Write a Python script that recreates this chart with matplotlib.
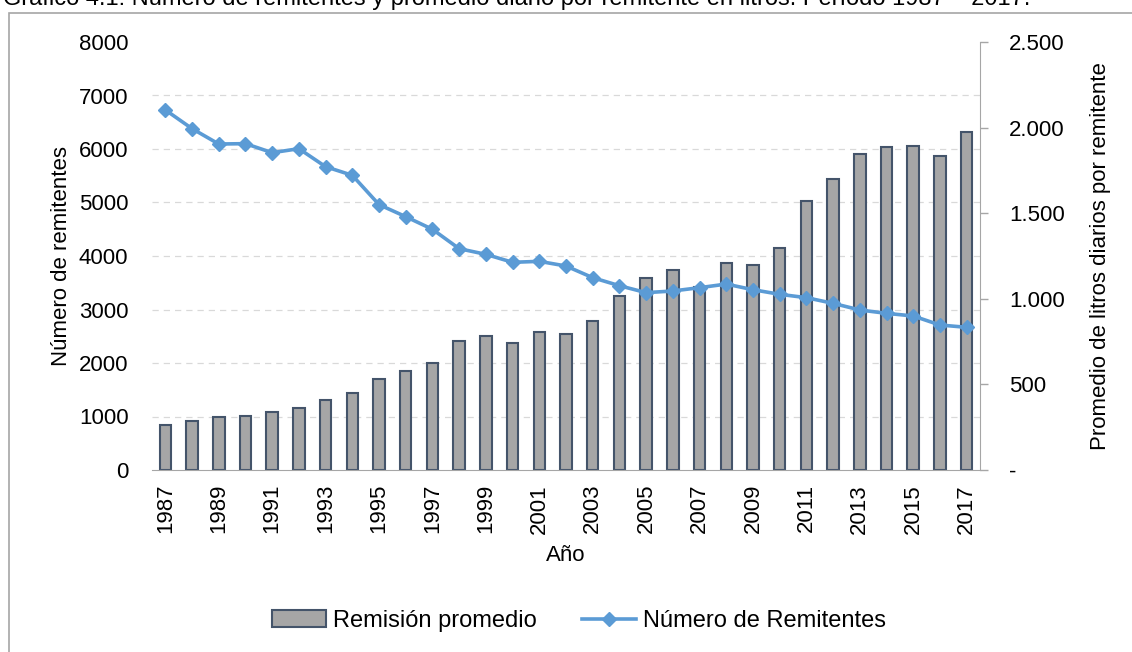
import numpy as np
import matplotlib
matplotlib.use('Agg')
import matplotlib.pyplot as plt
from matplotlib.patches import Rectangle
from matplotlib.ticker import FuncFormatter

plt.rcParams['font.family'] = ['Liberation Sans', 'DejaVu Sans']
plt.rcParams['font.size'] = 16

################################################
# datos
################################################
years = ['1987', '1988', '1989', '1990', '1991', '1992', '1993', '1994', '1995', '1996',
         '1997', '1998', '1999', '2000', '2001', '2002', '2003', '2004', '2005', '2006',
         '2007', '2008', '2009', '2010', '2011', '2012', '2013', '2014', '2015', '2016', '2017']

# litros diarios por remitente (eje derecho)
remision = [264, 287, 311, 318, 336, 365, 406, 447, 529, 578,
            627, 756, 785, 743, 806, 796, 872, 1017, 1119, 1166,
            1068, 1207, 1197, 1298, 1570, 1701, 1847, 1886, 1893, 1833, 1975]

# numero de remitentes (eje izquierdo)
remitentes = [6730, 6380, 6093, 6100, 5931, 6006, 5669, 5508, 4960, 4735,
              4499, 4137, 4031, 3882, 3900, 3813, 3595, 3445, 3315, 3346,
              3408, 3475, 3370, 3284, 3221, 3115, 2991, 2928, 2879, 2710, 2667]

left_ticks = [0, 1000, 2000, 3000, 4000, 5000, 6000, 7000, 8000]
right_ticks = [0, 500, 1000, 1500, 2000, 2500]
################################################

bar_color = '#A6A6A6'
bar_edge = '#44546A'
line_color = '#5B9BD5'
grey = '#A6A6A6'

fig = plt.figure(figsize=(11.32, 6.52), dpi=100)

# marco exterior y titulo cortado
fig.patches.append(Rectangle((8.5 / 1132, -0.05), 1.2, 1 - 13 / 652 + 0.05,
                             transform=fig.transFigure, fill=False,
                             edgecolor='#A6A6A6', linewidth=1.2))
fig.text(3 / 1132, 1 - 4.5 / 652,
         'Gráfico 4.1: Número de remitentes y promedio diario por remitente en litros. Período 1987 – 2017.',
         ha='left', va='baseline', fontsize=17)

x = np.arange(len(years))

ax_bar = fig.add_axes([152 / 1132, 1 - 470 / 652, 828 / 1132, 428 / 652])
ax_line = ax_bar.twinx()   # twinx mueve los ticks, se arreglan despues

# barras (escala a la derecha)
ax_bar.bar(x, remision, width=0.43, color=bar_color, edgecolor=bar_edge,
           linewidth=1.5, zorder=3, label='Remisión promedio')
ax_bar.set_ylim(0, 2500)
ax_bar.set_xlim(-0.5, len(years) - 0.5)
ax_bar.yaxis.tick_right()
ax_bar.yaxis.set_label_position('right')
ax_bar.set_yticks(right_ticks)
ax_bar.yaxis.set_major_formatter(FuncFormatter(
    lambda v, p: '-' if v == 0 else '{:,}'.format(int(v)).replace(',', '.')))
ax_bar.tick_params(axis='y', which='major', direction='out', length=6, width=1,
                   color=grey, pad=15)
ax_bar.set_ylabel('Promedio de litros diarios por remitente', labelpad=18)

# lineas guia en los ticks del eje izquierdo
grid_pos = [v * 2500 / 8000 for v in left_ticks[1:]]
ax_bar.set_yticks(grid_pos, minor=True)
ax_bar.tick_params(axis='y', which='minor', length=0, labelright=False, labelleft=False)
ax_bar.grid(axis='y', which='minor', color='#D9D9D9', linestyle=(0, (5, 4)),
            linewidth=0.9, zorder=0)

ax_bar.set_xticks(x[::2])
ax_bar.set_xticklabels(years[::2], rotation=90)
ax_bar.tick_params(axis='x', length=0, pad=10)
ax_bar.set_xlabel('Año', labelpad=8)

for s in ['top', 'left']:
    ax_bar.spines[s].set_visible(False)
ax_bar.spines['right'].set_color(grey)
ax_bar.spines['bottom'].set_color(grey)
ax_bar.spines['bottom'].set_zorder(4)

# linea (escala a la izquierda)
ax_line.plot(x, remitentes, color=line_color, linewidth=2.6, marker='D',
             markersize=7.5, label='Número de Remitentes', zorder=5)
ax_line.set_ylim(0, 8000)
ax_line.yaxis.tick_left()
ax_line.yaxis.set_label_position('left')
ax_line.set_yticks(left_ticks)
ax_line.tick_params(axis='y', length=0, pad=17)
ax_line.set_ylabel('Número de remitentes', labelpad=5)
for s in ['top', 'left', 'right', 'bottom']:
    ax_line.spines[s].set_visible(False)

h1, l1 = ax_bar.get_legend_handles_labels()
h2, l2 = ax_line.get_legend_handles_labels()
fig.legend(h1 + h2, l1 + l2, loc='center', bbox_to_anchor=(579 / 1132, 1 - 621 / 652),
           ncol=2, frameon=False, handlelength=2.3, handletextpad=0.3,
           columnspacing=1.9, fontsize=17)

plt.savefig('out.png', dpi=100)
